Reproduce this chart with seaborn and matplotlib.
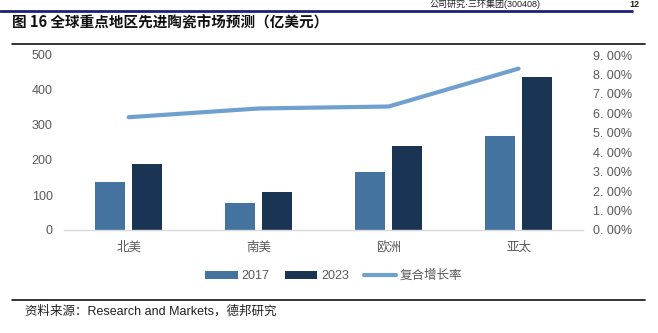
import numpy as np
import pandas as pd
import matplotlib
matplotlib.use("Agg")
import matplotlib.pyplot as plt
import seaborn as sns
from matplotlib.lines import Line2D
from matplotlib.ticker import FixedLocator, FuncFormatter

# ---- data ----
regions = ["北美", "南美", "欧洲", "亚太"]
years = ["2017", "2023"]
values_2017 = [136, 76, 165, 270]
values_2023 = [190, 108, 240, 437]
cagr = [5.8, 6.25, 6.35, 8.3]  # percent
left_ticks = [0, 100, 200, 300, 400, 500]
right_ticks = [0, 1, 2, 3, 4, 5, 6, 7, 8, 9]

title = "图 16 全球重点地区先进陶瓷市场预测（亿美元）"
source = "资料来源：Research and Markets，德邦研究"
header = "公司研究·三环集团(300408)"
page = "12"
line_label = "复合增长率"

df = pd.DataFrame({
    "region": regions * 2,
    "year": [years[0]] * len(regions) + [years[1]] * len(regions),
    "value": values_2017 + values_2023,
})

sns.set_theme(style="white")
plt.rcParams["font.family"] = ["Liberation Sans", "Noto Sans CJK SC", "DejaVu Sans"]

c2017 = "#44739F"
c2023 = "#1A3553"
cline = "#6FA0CE"
tick_col = "#595959"

fig = plt.figure(figsize=(6.58, 3.33), dpi=100)
ax = fig.add_axes([63.7 / 658, 1 - 230 / 333, (583.5 - 63.7) / 658, (230 - 55) / 333])

sns.barplot(data=df, x="region", y="value", hue="year", order=regions,
            hue_order=years, palette=[c2017, c2023], width=0.57, gap=0.19,
            linewidth=0, saturation=1, ax=ax, legend=True)
ax.set_xlim(-0.5, len(regions) - 0.5)
ax.set_ylim(left_ticks[0], left_ticks[-1])
ax.yaxis.set_major_locator(FixedLocator(left_ticks))
ax.set_xlabel("")
ax.set_ylabel("")
for s in ["top", "right", "left"]:
    ax.spines[s].set_visible(False)
ax.spines["bottom"].set_color("#D9D9D9")
ax.spines["bottom"].set_linewidth(1.0)
ax.tick_params(axis="y", length=0, pad=8, labelsize=9, labelcolor=tick_col)
ax.tick_params(axis="x", length=0, pad=8, labelsize=9, labelcolor=tick_col)
for lab in ax.get_xticklabels():
    lab.set_fontfamily(["Noto Sans CJK SC", "DejaVu Sans"])

ax2 = ax.twinx()
sns.lineplot(x=np.arange(len(regions)), y=cagr, ax=ax2, color=cline,
             linewidth=3, solid_capstyle="round", label=line_label, legend=False)
ax2.set_ylim(right_ticks[0], right_ticks[-1])
ax2.yaxis.set_major_locator(FixedLocator(right_ticks))
ax2.yaxis.set_major_formatter(FuncFormatter(lambda v, p: f"{v:.2f}%".replace(".", ". ")))
for s in ["top", "right", "left", "bottom"]:
    ax2.spines[s].set_visible(False)
ax2.tick_params(axis="y", length=0, pad=7, labelsize=9, labelcolor=tick_col)
ax2.set_ylabel("")
ax2.set_xlim(-0.5, len(regions) - 0.5)

h, l = ax.get_legend_handles_labels()
if ax.get_legend() is not None:
    ax.get_legend().remove()
h = list(h) + [Line2D([0], [0], color=cline, linewidth=3, solid_capstyle="round")]
l = list(l) + [line_label]
leg = fig.legend(h, l, loc="center", bbox_to_anchor=(334 / 658, 1 - 276 / 333),
                 ncol=3, frameon=False, fontsize=9, handlelength=2.6,
                 handleheight=0.6, columnspacing=1.2, handletextpad=0.3)
for t in leg.get_texts():
    t.set_color(tick_col)
    t.set_fontfamily(["Liberation Sans", "Noto Sans CJK SC"])

# header / title / source decorations
fig.add_artist(Line2D([0, 632 / 658], [1 - 11 / 333] * 2, color="#1F1F7A", linewidth=2,
                      transform=fig.transFigure))
fig.text(430 / 658, 1 - 9 / 333, header, fontsize=6.5, color="#222222", va="bottom", ha="left")
fig.text(640 / 658, 1 - 9 / 333, page, fontsize=6.5, color="#222222", va="bottom",
         ha="right", fontweight="bold")
fig.text(12 / 658, 1 - 23 / 333, title, fontsize=10.5, fontweight="bold", color="#111111",
         va="center", ha="left", family=["Noto Sans CJK SC", "DejaVu Sans"])
fig.add_artist(Line2D([12 / 658, 645 / 658], [1 - 44 / 333] * 2, color="#111111",
                      linewidth=1.2, transform=fig.transFigure))
fig.add_artist(Line2D([12 / 658, 645 / 658], [1 - 300 / 333] * 2, color="#111111",
                      linewidth=1.2, transform=fig.transFigure))
fig.text(25 / 658, 1 - 311 / 333, source, fontsize=9, color="#222222", va="center", ha="left")

fig.savefig("out.png", dpi=100)
